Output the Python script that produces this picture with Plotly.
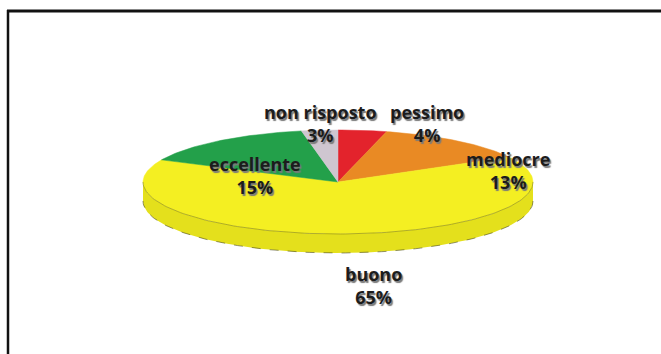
import numpy as np
import plotly.graph_objects as go

# Survey answers, clockwise from 12 o'clock
labels = ["pessimo", "mediocre", "buono", "eccellente", "non risposto"]
values = [4, 13, 65, 15, 3]
colors = ["#e3232c", "#e98a24", "#f4ef22", "#23a04a", "#cfc6d0"]

# Ellipse geometry of the tilted pie (pixel space of the figure)
CX, CY = 338, 182
RX, RY = 195, 52
DEPTH = 19
SIDE_COLOR = "#e4e01c"

# Label anchors: centre of the two-line block (name + percentage)
label_pos = {
    "pessimo": (427, 123),
    "mediocre": (508, 170),
    "buono": (373, 285),
    "eccellente": (255, 175),
    "non risposto": (320, 123),
}


def ell(theta_deg, dy=0.0):
    t = np.radians(theta_deg)
    return CX + RX * np.sin(t), CY - RY * np.cos(t) + dy


fig = go.Figure()

# Side wall: front half of the disc (90..270 degrees clockwise from top)
arc = np.linspace(90, 270, 120)
xt, yt = ell(arc)
xb, yb = ell(arc[::-1], DEPTH)
fig.add_trace(go.Scatter(
    x=np.concatenate([xt, xb, xt[:1]]), y=np.concatenate([yt, yb, yt[:1]]),
    fill="toself", fillcolor=SIDE_COLOR, mode="lines",
    line=dict(color=SIDE_COLOR, width=0), hoverinfo="skip", showlegend=False))
# bottom rim of the side wall
xr, yr = ell(arc, DEPTH)
fig.add_trace(go.Scatter(x=xr, y=yr, mode="lines",
                         line=dict(color="rgba(60,60,20,0.55)", width=1, dash="dash"),
                         hoverinfo="skip", showlegend=False))

# Top face slices
total = sum(values)
start = 0.0
for lab, val, col in zip(labels, values, colors):
    span = 360.0 * val / total
    a = np.linspace(start, start + span, max(int(span), 2) + 1)
    xs, ys = ell(a)
    fig.add_trace(go.Scatter(
        x=np.concatenate([[CX], xs, [CX]]), y=np.concatenate([[CY], ys, [CY]]),
        fill="toself", fillcolor=col, mode="lines",
        line=dict(color=col, width=0.5), name=lab, hoverinfo="name",
        showlegend=False))
    start += span

# upper rim of the side wall (front edge of the top face)
xf, yf = ell(arc)
fig.add_trace(go.Scatter(x=xf, y=yf, mode="lines",
                         line=dict(color="rgba(90,90,20,0.45)", width=1),
                         hoverinfo="skip", showlegend=False))

# Category labels with percentages
label_font = dict(family="Open Sans", size=18, color="#1c1c1c", weight=700,
                  shadow="1.5px 1.5px 1px #7a7a7a")
for lab, val in zip(labels, values):
    x, y = label_pos[lab]
    fig.add_annotation(x=x, y=y, xref="x", yref="y", showarrow=False,
                       text=f"{lab}<br>{round(100 * val / total)}%",
                       font=label_font, align="center")

fig.update_layout(
    width=661, height=354,
    margin=dict(l=0, r=0, t=0, b=0),
    paper_bgcolor="white", plot_bgcolor="white",
    xaxis=dict(range=[0, 661], visible=False, fixedrange=True),
    yaxis=dict(range=[354, 0], visible=False, fixedrange=True),
    shapes=[
        dict(type="line", xref="paper", yref="paper", x0=7 / 661, x1=1.0,
             y0=1 - 11 / 354, y1=1 - 11 / 354, line=dict(color="#111", width=3)),
        dict(type="line", xref="paper", yref="paper", x0=8 / 661, x1=8 / 661,
             y0=0, y1=1 - 10 / 354, line=dict(color="#111", width=2.5)),
    ],
)

fig.write_html("out.html")
